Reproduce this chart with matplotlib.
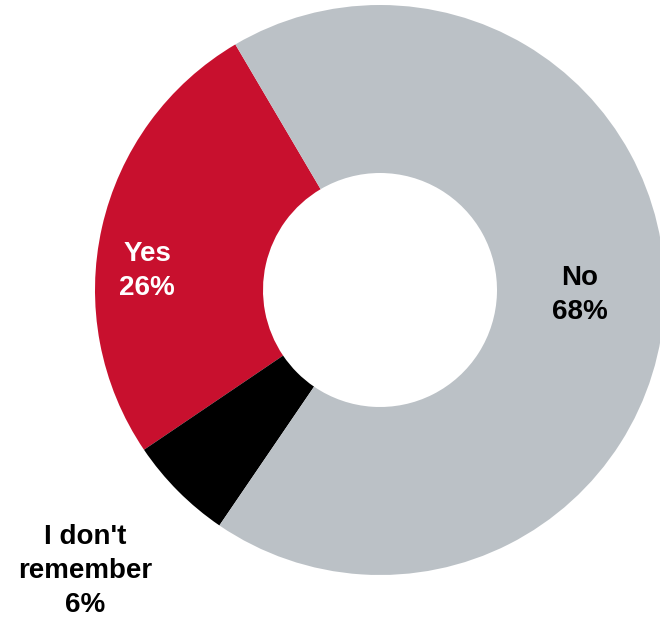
import matplotlib
matplotlib.use("Agg")
import matplotlib.pyplot as plt

categories = ["Yes", "I don't remember", "No"]
values = [26, 6, 68]
colors = ["#C8102E", "#000000", "#BBC1C6"]

W, H = 660, 617
fig = plt.figure(figsize=(W / 100, H / 100), dpi=100)
ax = fig.add_axes([0, 0, 1, 1])

cx, cy, R = 380, H - 290, 285
ax.pie(values, colors=colors, startangle=120.5, counterclock=True,
       center=(cx, cy), radius=R, frame=True,
       wedgeprops=dict(width=R - 117, linewidth=0))
ax.set_xlim(0, W)
ax.set_ylim(0, H)
ax.set_aspect("equal")
ax.axis("off")

font = dict(family=["Liberation Sans", "DejaVu Sans"], fontweight="bold",
            fontsize=20, ha="center", va="center", linespacing=1.38)
ax.text(147, H - 271, f"{categories[0]}\n{values[0]}%", color="white", **font)
ax.text(580, H - 295, f"{categories[2]}\n{values[2]}%", color="black", **font)
ax.text(85, H - 571, "I don't\nremember\n" + f"{values[1]}%", color="black", **font)

fig.savefig("out.png", dpi=100)
